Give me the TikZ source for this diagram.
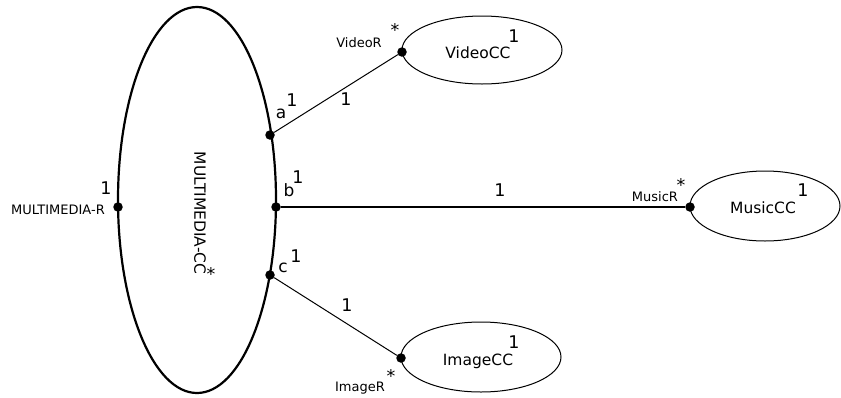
\documentclass[tikz,border=0pt]{standalone}
\usepackage{fontspec}
\setmainfont{DejaVu Sans}
\usetikzlibrary{shapes.geometric}
\begin{document}
\begin{tikzpicture}[x=1pt,y=-1pt,
  cls/.style={draw,ellipse,line width=1pt,inner sep=0pt},
  big/.style={draw,ellipse,line width=2.2pt,inner sep=0pt},
  pt/.style={circle,fill=black,inner sep=0pt,minimum size=9.5pt},
  lbl/.style={font=\fontsize{15.5}{16}\selectfont,inner sep=0pt},
  plbl/.style={font=\fontsize{17}{17}\selectfont,inner sep=0pt},
  slbl/.style={font=\fontsize{13}{13}\selectfont,inner sep=0pt},
  num/.style={font=\fontsize{17.5}{18}\selectfont,inner sep=0pt},
  conn/.style={line width=1pt}]
\useasboundingbox (0,0) rectangle (841,397);
% classes
\node[big,minimum width=158pt,minimum height=386pt] (mm) at (197,200) {};
\node[cls,minimum width=160pt,minimum height=68pt] (video) at (482,50) {};
\node[cls,minimum width=150pt,minimum height=70pt] (music) at (765,206) {};
\node[cls,minimum width=160pt,minimum height=70pt] (image) at (481,357) {};
% class names
\node[lbl,rotate=-90] (mmname) at (200,213) {MULTIMEDIA-CC};
\node[num] (mmstar) at (211,274) {*};
\node[lbl] (videoname) at (478,53) {VideoCC};
\node[num] (videomul) at (514,36) {1};
\node[lbl] (musicname) at (763,208) {MusicCC};
\node[num] (musicmul) at (803,190) {1};
\node[lbl] (imagename) at (478,361) {ImageCC};
\node[num] (imagemul) at (514,342) {1};
% ports
\node[pt] (mr) at (118,207) {};
\node[pt] (pa) at (270,135) {};
\node[pt] (pb) at (276,207) {};
\node[pt] (pc) at (270,275) {};
\node[pt] (vr) at (402,52) {};
\node[pt] (mur) at (690,207) {};
\node[pt] (ir) at (401,358) {};
% connectors
\draw[conn] (pa) -- (vr);
\draw[conn,line width=1.3pt] (pb) -- (mur);
\draw[conn] (pc) -- (ir);
% port labels
\node[slbl] (mrl) at (58,210) {MULTIMEDIA-R};
\node[num] (mrm) at (106,188) {1};
\node[plbl] (al) at (281,114) {a};
\node[num] (am) at (292,100) {1};
\node[plbl] (bl) at (289,190) {b};
\node[num] (bm) at (298,177) {1};
\node[plbl] (cl) at (283,268) {c};
\node[num] (cm) at (296,256) {1};
\node[num] (aline) at (346,99) {1};
\node[num] (bline) at (500,190) {1};
\node[num] (cline) at (347,305) {1};
\node[slbl] (vrl) at (359,43) {VideoR};
\node[num] (vrm) at (395,30) {*};
\node[slbl] (murl) at (655,197) {MusicR};
\node[num] (murm) at (681,185) {*};
\node[slbl] (irl) at (360,388) {ImageR};
\node[num] (irm) at (391,376) {*};
\end{tikzpicture}
\end{document}
